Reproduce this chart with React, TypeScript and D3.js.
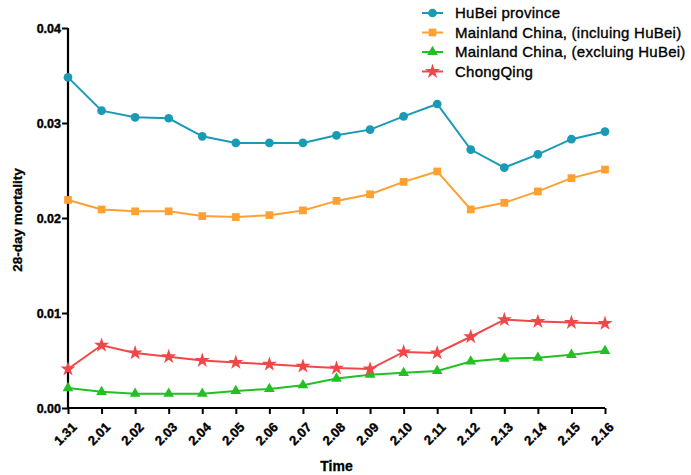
import React, { useEffect, useRef } from "react";
import * as d3 from "d3";

const dates = [
  "1.31", "2.01", "2.02", "2.03", "2.04", "2.05", "2.06", "2.07", "2.08",
  "2.09", "2.10", "2.11", "2.12", "2.13", "2.14", "2.15", "2.16",
];

const hubei = [
  0.0348, 0.0313, 0.0306, 0.0305, 0.0286, 0.0279, 0.0279, 0.0279, 0.0287,
  0.0293, 0.0307, 0.032, 0.0272, 0.0253, 0.0267, 0.0283, 0.0291,
];
const mainlandIncl = [
  0.0219, 0.0209, 0.0207, 0.0207, 0.0202, 0.0201, 0.0203, 0.0208, 0.0218,
  0.0225, 0.0238, 0.0249, 0.0209, 0.0216, 0.0228, 0.0242, 0.0251,
];
const mainlandExcl = [
  0.0021, 0.0017, 0.0015, 0.0015, 0.0015, 0.0018, 0.002, 0.0024, 0.0031,
  0.0035, 0.0037, 0.0039, 0.0049, 0.0052, 0.0053, 0.0056, 0.006,
];
const chongqing = [
  0.0041, 0.0066, 0.0058, 0.0054, 0.005, 0.0048, 0.0046, 0.0044, 0.0042,
  0.0041, 0.0059, 0.0058, 0.0075, 0.0093, 0.0091, 0.009, 0.0089,
];

const yTicks = [0, 0.01, 0.02, 0.03, 0.04];

const series = [
  { name: "HuBei province", values: hubei, color: "#1a9ab5", symbol: d3.symbolCircle, size: 60 },
  { name: "Mainland China, (incluing HuBei)", values: mainlandIncl, color: "#ffa033", symbol: d3.symbolSquare, size: 60 },
  { name: "Mainland China, (excluing HuBei)", values: mainlandExcl, color: "#22c022", symbol: d3.symbolTriangle, size: 50 },
  { name: "ChongQing", values: chongqing, color: "#f04848", symbol: d3.symbolStar, size: 70 },
];

const margin = { top: 28, right: 86, bottom: 67, left: 68 };
const W = 691;
const H = 475;
const font = "Liberation Sans, Arial, sans-serif";

const App = () => {
  const svgRef = useRef(null);

  useEffect(() => {
    const width = W - margin.left - margin.right;
    const height = H - margin.top - margin.bottom;
    const svg = d3.select(svgRef.current);
    svg.selectAll("*").remove();

    const chart = svg
      .append("g")
      .attr("transform", `translate(${margin.left},${margin.top})`);

    const x = d3.scalePoint().domain(dates).range([0, width]);
    const y = d3.scaleLinear().domain([0, 0.04]).range([height, 0]);

    // Y axis
    chart
      .append("g")
      .call(d3.axisLeft(y).tickValues(yTicks).tickFormat(d3.format(".2f")).tickSize(6))
      .call((g) => g.select(".domain").attr("stroke", "#000").attr("stroke-width", 2.2).attr("d", `M0,${height}V0`))
      .call((g) => g.selectAll("line").attr("stroke", "#000").attr("stroke-width", 2))
      .call((g) =>
        g
          .selectAll("text")
          .attr("fill", "#000")
          .attr("stroke", "#000")
          .attr("stroke-width", 0.4)
          .attr("font-size", 12.5)
          .attr("font-weight", "bold")
          .attr("font-family", font)
          .attr("x", -7)
      );

    // X axis
    chart
      .append("g")
      .attr("transform", `translate(0,${height})`)
      .call(d3.axisBottom(x).tickSize(6))
      .call((g) => g.select(".domain").attr("stroke", "#000").attr("stroke-width", 2.2).attr("d", `M0,0H${width}`))
      .call((g) => g.selectAll("line").attr("stroke", "#000").attr("stroke-width", 2))
      .call((g) =>
        g
          .selectAll("text")
          .attr("fill", "#000")
          .attr("stroke", "#000")
          .attr("stroke-width", 0.4)
          .attr("font-size", 13)
          .attr("font-weight", "bold")
          .attr("font-family", font)
          .attr("text-anchor", "end")
          .attr("dy", null)
          .attr("y", 0)
          .attr("transform", "translate(9,20) rotate(-45)")
      );

    // Axis titles
    chart
      .append("text")
      .attr("transform", `translate(${-46},${height / 2 + 2}) rotate(-90)`)
      .attr("text-anchor", "middle")
      .attr("font-size", 13.5)
      .attr("font-weight", "bold")
      .attr("font-family", font)
      .attr("stroke", "#000")
      .attr("stroke-width", 0.3)
      .text("28-day mortality");

    chart
      .append("text")
      .attr("x", width / 2)
      .attr("y", height + 63)
      .attr("text-anchor", "middle")
      .attr("font-size", 14)
      .attr("font-weight", "bold")
      .attr("font-family", font)
      .attr("stroke", "#000")
      .attr("stroke-width", 0.3)
      .text("Time");

    // Lines and markers
    const line = d3
      .line<number>()
      .x((_, i) => x(dates[i]) as number)
      .y((d) => y(d));

    series.forEach((s) => {
      chart
        .append("path")
        .attr("d", line(s.values))
        .attr("fill", "none")
        .attr("stroke", s.color)
        .attr("stroke-width", 2);

      chart
        .selectAll(null)
        .data(s.values)
        .enter()
        .append("path")
        .attr("d", d3.symbol(s.symbol, s.size)())
        .attr("transform", (d, i) => `translate(${x(dates[i])},${y(d)})`)
        .attr("fill", s.color);
    });

    // Legend
    const legend = svg.append("g").attr("transform", "translate(422,13)");
    series.forEach((s, i) => {
      const row = legend.append("g").attr("transform", `translate(0,${i * 19.5})`);
      row
        .append("line")
        .attr("x1", 0)
        .attr("x2", 21)
        .attr("stroke", s.color)
        .attr("stroke-width", 2);
      row
        .append("path")
        .attr("d", d3.symbol(s.symbol, s.size)())
        .attr("transform", "translate(10.5,0)")
        .attr("fill", s.color);
      row
        .append("text")
        .attr("x", 33)
        .attr("y", 5)
        .attr("font-size", 15)
        .attr("letter-spacing", 0.25)
        .attr("font-family", font)
        .attr("fill", "#000")
        .attr("stroke", "#000")
        .attr("stroke-width", 0.35)
        .text(s.name);
    });
  }, []);

  return (
    <svg
      ref={svgRef}
      width={W}
      height={H}
      style={{ position: "absolute", left: 0, top: 0, background: "#fff" }}
    ></svg>
  );
};

export default App;
